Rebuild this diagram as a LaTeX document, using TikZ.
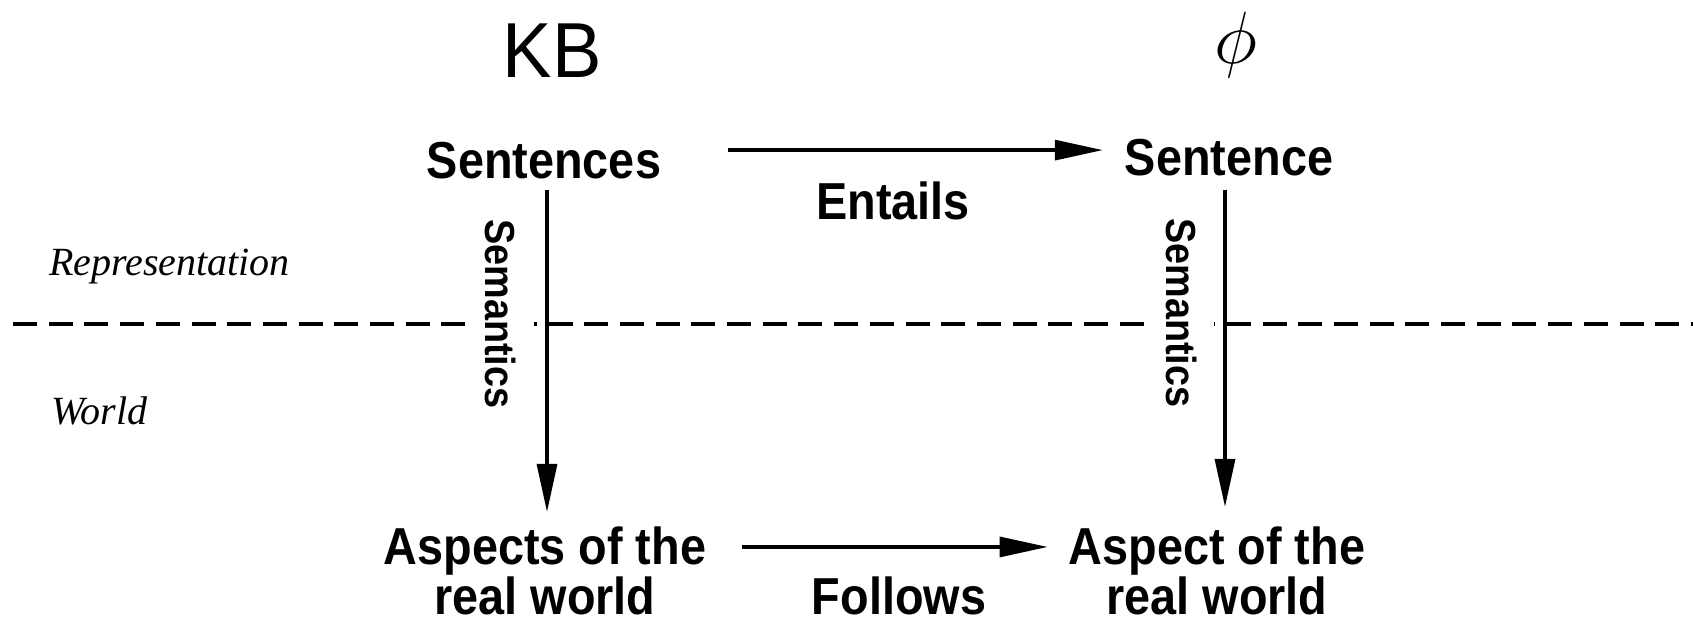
\RequirePackage{fix-cm}
\documentclass[tikz,border=0pt]{standalone}
\usepackage{fontspec}
\setmainfont{Liberation Serif}
\newfontfamily\lblfont{Liberation Sans}[FakeStretch=0.9]
\newfontfamily\kbfont{Liberation Sans}[FakeStretch=0.95]
\usetikzlibrary{arrows.meta}

\begin{document}
\begin{tikzpicture}[x=1bp,y=-1bp,
        >={Triangle[length=48bp,width=20bp]},
        lbl/.style={inner sep=0pt,align=center,font=\lblfont\bfseries\fontsize{52bp}{41bp}\selectfont},
        semlbl/.style={rotate=-90,fill=white,inner xsep=2bp,inner ysep=18bp,font=\lblfont\bfseries\fontsize{42bp}{42bp}\selectfont},
        side/.style={inner sep=0pt,anchor=base west,font=\itshape\fontsize{40bp}{40bp}\selectfont},
        arr/.style={->,line width=3.2bp}]
        \useasboundingbox (0,0) rectangle (1693,625);
        \node[anchor=base,inner sep=0pt,font=\kbfont\fontsize{78bp}{78bp}\selectfont] (kb) at (552,78) {KB};
        \node[anchor=base,inner sep=0pt,font=\fontsize{74bp}{74bp}\selectfont] (phi) at (1236,64) {$\phi$};
        \node[lbl,anchor=base] (sent1) at (544,179) {Sentences};
        \node[lbl,anchor=base] (sent2) at (1229,176) {Sentence};
        \node[lbl,anchor=base] (ent) at (893,220) {Entails};
        \node[lbl,anchor=south] (asp1) at (545,615) {Aspects of the\\real world};
        \node[lbl,anchor=south] (asp2) at (1217,615) {Aspect of the\\real world};
        \node[lbl,anchor=base] (fol) at (899,614) {Follows};
        \node[side] (rep) at (49,275) {Representation};
        \node[side] (wld) at (51,424) {World};
        \coordinate (dl) at (13,324);
        \coordinate (dr) at (1693,324);
        \draw[line width=3.3bp,dash pattern=on 24bp off 11.7bp] (dl) -- (dr);
        \node[semlbl] (sem1) at (501,314) {Semantics};
        \node[semlbl] (sem2) at (1181,313) {Semantics};
        \draw[arr,shorten <=67bp,shorten >=22bp] ([yshift=11bp]sent1.east) -- ([yshift=11bp]sent1.east -| sent2.west);
        \draw[arr,shorten <=10bp,shorten >=15bp] ([xshift=3bp]sent1.south) -- ([xshift=3bp]sent1.south |- asp1.north);
        \draw[arr,shorten <=13bp,shorten >=20bp] ([xshift=-4bp]sent2.south) -- ([xshift=-4bp]sent2.south |- asp2.north);
        \draw[arr,shorten <=36bp,shorten >=21bp] ([yshift=-20bp]asp1.north east) -- ([yshift=-20bp]asp1.north east -| asp2.north west);
\end{tikzpicture}
\end{document}
